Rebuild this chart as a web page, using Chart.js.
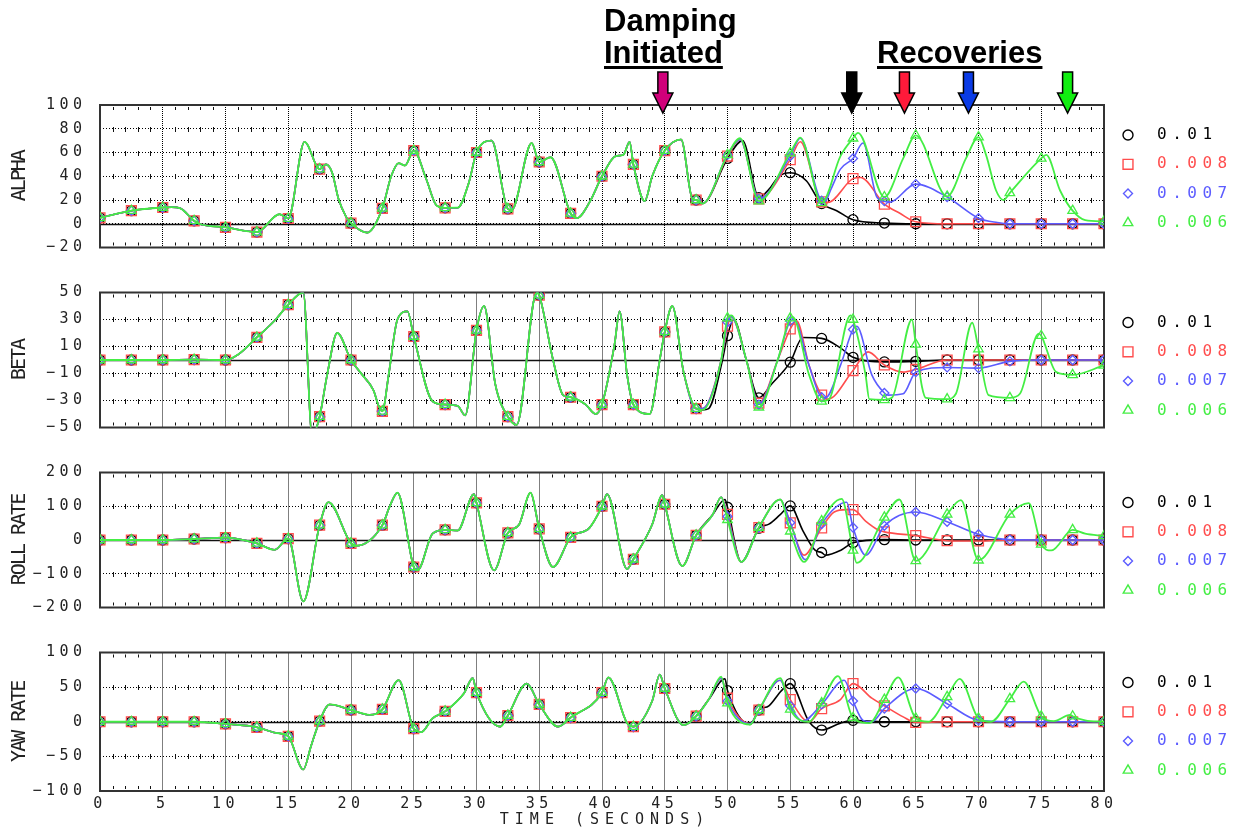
<!DOCTYPE html>
<html>
<head>
<meta charset="utf-8">
<script src="https://cdn.jsdelivr.net/npm/chart.js@4.4.1/dist/chart.umd.min.js"></script>
<style>
  body { margin: 0; background: #fff; }
  #page { position: relative; width: 1241px; height: 829px; overflow: hidden; }
  #page canvas { position: absolute; left: 0; }
</style>
</head>
<body>
<div id="page">
  <canvas id="p0" width="1241" height="270" style="top:0px"></canvas>
  <canvas id="p1" width="1241" height="180" style="top:270px"></canvas>
  <canvas id="p2" width="1241" height="180" style="top:450px"></canvas>
  <canvas id="p3" width="1241" height="199" style="top:630px"></canvas>
</div>
<script>
// series (damping gains)
const seriesNames = ["0.01", "0.008", "0.007", "0.006"];

// tick labels
const timeTicks = [0, 5, 10, 15, 20, 25, 30, 35, 40, 45, 50, 55, 60, 65, 70, 75, 80];
const alphaTicks = [-20, 0, 20, 40, 60, 80, 100];
const betaTicks = [-50, -30, -10, 10, 30, 50];
const rollTicks = [-200, -100, 0, 100, 200];
const yawTicks = [-100, -50, 0, 50, 100];

// arrows above the top panel (time of each arrow)
const arrowTimes = [44.85, 59.9, 64.1, 69.2, 77.1];

// [time, value] before damping - all runs identical
const alphaShared = [[0,5],[2.5,11],[5,13.7],[5.7,14],[6.4,13],[7.5,2.5],[7.9,0],[10,-3],[12.5,-7],[14.3,8],[15,4.4],[16.3,69],[17.5,46],[18,50],[18.5,43],[19,21],[19.6,6],[20,0.5],[21.3,-7.5],[22.5,13],[23.2,40],[23.8,51],[24.3,49],[25,61.6],[26,37.5],[26.8,15.6],[27.5,13.4],[28.5,13.5],[29.4,35],[30,60],[31.2,70],[32.5,12.5],[32.8,11.5],[34.4,68],[35,52],[35.9,56],[37.5,8.8],[38,4.7],[39,18],[40,40],[41.1,57],[41.7,58],[42.2,69],[42.5,50],[43.4,19],[44,40],[45,61.6],[46.3,71],[47.2,21],[47.5,20]];
const alphaBlack = [[48,17],[50,55],[51.2,70],[52.5,22],[53.3,29],[54.1,40],[55,43],[56.3,36],[57.1,22.5],[57.5,17],[58.7,11],[60,3.4],[62.5,0.6],[65,0],[67.5,0],[70,0],[72.5,0],[75,0],[77.5,0],[80,0]];
const alphaRed = [[48,17],[50,57],[51,71],[52.5,21],[55,54],[55.8,69],[57.5,18.5],[58,18],[60,38],[60.6,39],[62.5,16.5],[63.7,9],[65,1.7],[67.5,0],[70,0],[72.5,0],[75,0],[77.5,0],[80,0]];
const alphaBlue = [[48,17],[50,58],[51,71],[52.5,21],[55,57],[55.8,72],[57.5,19.5],[57.8,19],[58.2,28],[59,46],[60,55],[60.8,68],[61.9,22.5],[62.5,19],[62.9,18],[65,33.4],[67.5,22.5],[70,4.7],[71.5,1],[72.5,0],[75,0],[77.5,0],[80,0]];
const alphaGreen = [[48,17],[50,58],[51,72],[52.5,19],[55,59.5],[55.8,72.6],[57.5,17.5],[59,57],[60,72],[60.4,76.5],[62.5,22.5],[64,55],[65,74.5],[67.5,23],[69,55],[70,73],[70.6,58],[71.4,28],[72,20],[72.5,26],[75,55],[75.4,58],[76.5,28],[77.5,11],[78.5,3],[80,2]];

const betaShared = [[0,0],[2.5,0],[5,0],[7.5,0.3],[10,0],[11,4],[12.5,16.7],[14,30],[15,41],[16.2,50],[16.9,-56],[17.5,-42],[18.1,-11],[18.9,20],[20,0],[20.9,-11],[21.8,-22.6],[22.2,-34],[22.5,-38],[23,-11],[23.7,30],[24.5,36],[25,17.4],[26.5,-30.6],[27.5,-33],[28.5,-34],[29.1,-41],[30,22],[30.6,40],[31.5,-18],[32.5,-42],[33.2,-48],[34.8,50],[35,48],[36.1,0],[36.9,-26],[37.5,-27.6],[38.7,-33],[39.5,-40],[40,-33],[41,11.6],[41.4,36],[42,-11],[42.5,-33],[43.8,-40],[44.6,0],[45,20.8],[45.6,40],[46.5,-9],[47.5,-36]];
const betaBlack = [[48,-37],[48.5,-36],[49.6,0],[50,18],[50.5,30],[51.5,0],[52.5,-28],[53.5,-18],[55,-1.6],[56,16.7],[57.5,16],[59,9],[60,2],[62.5,-1.4],[65,-1],[67.5,0],[70,0],[72.5,0],[75,0],[77.5,0],[80,0]];
const betaRed = [[48,-36],[49.5,0],[50,25],[50.3,32],[51.5,0],[52.5,-32],[54,0],[55,23],[55.5,29],[56.5,-4],[57.5,-26],[58,-29],[60,-7.8],[61.2,6],[62.5,-3.7],[64,-9],[65,-7],[67.5,0],[70,0],[72.5,0],[75,0],[77.5,0],[80,0]];
const betaBlue = [[48,-36],[49.5,0],[50,28],[50.3,32],[51.5,0],[52.5,-33],[54,0],[55,28.8],[55.3,30],[56.5,-4],[57.5,-27.6],[57.8,-28],[59,-4],[60,22.6],[60.3,25],[61.5,-11],[62.5,-24.4],[62.8,-26],[64,-25],[65,-9],[67.5,-5.5],[70,-6],[72.5,-1],[75,0],[77.5,0],[80,0]];
const betaGreen = [[48,-37],[49.5,0],[50,31],[50.3,33],[51.5,0],[52.5,-35],[54,0],[55,31],[55.2,32],[56.5,-11],[57.5,-30.6],[58.1,-29],[59.8,33],[60,30],[61,-11],[61.3,-29],[62.5,-29.5],[63.1,-28],[64.7,30],[65,11.6],[65.5,-20],[65.8,-28],[67.5,-29],[68.2,-25],[69.5,27.6],[70,8],[70.8,-26],[72.5,-28],[73.3,-25],[74.8,19.6],[75,18],[76.2,-9],[77.5,-11],[80,-4]];

const rollShared = [[0,0],[2.5,0],[5,0],[7.5,3],[10,7],[12.5,-10],[13.9,-29],[15,4],[16.2,-182],[17.5,44],[18.2,112],[20,-10],[20.4,-17],[22.5,44],[23.1,101],[23.7,140],[25,-80],[25.3,-90],[26.5,19],[27.5,30],[28.5,28],[29.8,136],[30,110],[31.4,-90],[32.5,21],[33.4,46],[34.3,140],[35,33],[36.1,-80],[37.5,8],[39,36],[40,100],[40.4,136],[42,-86],[42.5,-57],[44,46],[44.8,133],[45,106],[46.4,-77],[47.5,14]];
const rollBlack = [[48.8,74],[49.8,120],[50,97],[51.1,-65],[52.5,35],[53.3,47],[54.2,75],[55,101],[56,28],[57,-31],[57.5,-37],[57.8,-45],[59,-31],[60,-8],[62.5,1],[65,0],[67.5,0],[70,0],[72.5,0],[75,0],[77.5,0],[80,0]];
const rollRed = [[48.8,74],[49.5,127],[50,76],[51.1,-65],[52.5,37],[54.2,120],[55,51],[56.1,-45],[57.5,36],[58.5,83],[59.5,90],[60,90],[61,56],[62,30],[62.5,24],[65,13],[67.5,-2],[70,-3],[72.5,0],[75,0],[77.5,0],[80,0]];
const rollBlue = [[48.8,74],[49.5,127],[50,70],[51.1,-65],[52.5,37],[54.2,120],[55,51],[56.2,-58],[57.5,47],[59.5,112],[60,37],[61,-45],[62.5,42],[65,83],[67.5,54],[70,17],[72.5,1],[75,0],[77.5,0],[80,0]];
const rollGreen = [[48.8,74],[49.5,127],[50,60],[51.1,-65],[52.5,37],[54.2,120],[55,26],[56.1,-65],[57.5,56],[59.1,122],[60,-31],[60.3,-68],[62.5,67],[63.7,120],[65,-62],[67.5,76],[68.6,118],[70,-60],[72.5,76],[74,109],[75,-13],[75.8,-31],[77.5,30],[78.5,19],[80,12]];

const yawShared = [[0,0],[2.5,0],[5,0],[7.5,0],[10,-3],[12.5,-8],[14,-16],[15,-21],[16.2,-69],[16.8,-36],[17.5,1],[18.3,25],[20,17],[21.5,10],[22.5,18],[23.8,60],[25,-10],[25.6,-15],[26.5,5],[27.5,15],[29,41],[29.7,63],[30,42],[31.9,-7],[32.5,9],[34,55],[35,25],[36.5,-7],[37.5,6],[40,42],[40.5,64],[42,-2],[42.5,-7],[44,30],[44.6,68],[45,48],[46.5,-5],[47.5,8]];
const yawBlack = [[48.5,32],[49.8,62],[50,45],[51.8,-4],[52.5,17],[53.3,23],[54.3,45],[55,55],[56.5,0],[57.5,-12],[59,-2],[60,2],[62.5,0],[65,0],[67.5,0],[70,0],[72.5,0],[75,0],[77.5,0],[80,0]];
const yawRed = [[48.5,32],[49.5,63],[50,34],[51.8,-3],[52.5,17],[54.2,60],[55,32],[56.5,0],[57.5,19],[59,32],[60,55],[61.5,34],[62.5,23],[64,7],[65,-1],[67.5,0],[70,0],[72.5,0],[75,0],[77.5,0],[80,0]];
const yawBlue = [[48.5,32],[49.5,63],[50,30],[51.8,-3],[52.5,17],[54.2,60],[55,23],[56,1],[57.5,25],[59.3,60],[60,30],[60.8,2],[61.5,0],[62.5,19],[65,48],[67.5,26],[70,2],[72.5,0],[75,0],[77.5,0],[80,0]];
const yawGreen = [[48.5,32],[49.5,65],[50,27],[51.8,-4],[52.5,17],[54.2,63],[55,18],[56.5,0],[57.5,27],[58.8,66],[60,5.5],[61.3,-2],[62.5,32],[63.6,64],[65,5],[66,0],[67.5,36],[68.5,62],[70,5],[71,0],[72.5,33],[73.6,58],[75,8],[76,1],[77.3,10],[77.5,8],[78.5,2],[80,0]];

// styles
const seriesColors = ["#000000", "#ff4d4d", "#5c5cff", "#44ee44"];
const seriesPoints = ["circle", "rect", "rectRot", "triangle"];
const seriesRadius = [5, 7, 4.5, 5.5];
const arrowColors = ["#d0007a", "#000000", "#ff1a3a", "#0a3be6", "#11ee11"];
const monoFont = '"DejaVu Sans Mono", monospace';

const panels = [
  { id: "p0", title: "ALPHA", shared: alphaShared, runs: [alphaBlack, alphaRed, alphaBlue, alphaGreen], ticks: alphaTicks, padTop: 105, padBottom: 19, xHeight: 0, notes: true },
  { id: "p1", title: "BETA", shared: betaShared, runs: [betaBlack, betaRed, betaBlue, betaGreen], ticks: betaTicks, padTop: 15, padBottom: 19, xHeight: 0 },
  { id: "p2", title: "ROLL RATE", shared: rollShared, runs: [rollBlack, rollRed, rollBlue, rollGreen], ticks: rollTicks, padTop: 15, padBottom: 19, xHeight: 0 },
  { id: "p3", title: "YAW RATE", shared: yawShared, runs: [yawBlack, yawRed, yawBlue, yawGreen], ticks: yawTicks, padTop: 15, padBottom: 0, xHeight: 38, xAxis: true }
];

function isMarker(t) {
  return Math.abs(t / 2.5 - Math.round(t / 2.5)) < 1e-6;
}

function drawMark(ctx, style, x, y, r) {
  ctx.beginPath();
  if (style === "circle") {
    ctx.arc(x, y, r, 0, Math.PI * 2);
  } else if (style === "rect") {
    const s = r * Math.SQRT1_2;
    ctx.rect(x - s, y - s, 2 * s, 2 * s);
  } else if (style === "rectRot") {
    ctx.moveTo(x, y - r); ctx.lineTo(x + r, y); ctx.lineTo(x, y + r); ctx.lineTo(x - r, y); ctx.closePath();
  } else {
    for (let k = 0; k < 3; k++) {
      const ang = k * 2 * Math.PI / 3;
      const px = x + Math.sin(ang) * r, py = y - Math.cos(ang) * r;
      if (k === 0) ctx.moveTo(px, py); else ctx.lineTo(px, py);
    }
    ctx.closePath();
  }
  ctx.stroke();
}

function drawArrow(ctx, cx, color) {
  const top = 72, headY = 93, tip = 113;
  ctx.beginPath();
  ctx.moveTo(cx - 5, top); ctx.lineTo(cx + 5, top); ctx.lineTo(cx + 5, headY);
  ctx.lineTo(cx + 10, headY); ctx.lineTo(cx, tip); ctx.lineTo(cx - 10, headY);
  ctx.lineTo(cx - 5, headY); ctx.closePath();
  ctx.fillStyle = color; ctx.fill();
  ctx.strokeStyle = "#000"; ctx.lineWidth = 1.5; ctx.stroke();
}

const panelDecor = {
  id: "panelDecor",
  beforeDraw(chart) {
    chart.ctx.letterSpacing = "4.5px";
  },
  beforeDatasetsDraw(chart) {
    const { ctx, chartArea: a, scales: { x, y } } = chart;
    ctx.save();
    ctx.fillStyle = "#111";
    // one-second marks on borders and grid lines
    for (let t = 1; t < 80; t++) {
      if (t % 5 === 0) continue;
      const px = Math.round(x.getPixelForValue(t));
      ctx.fillRect(px, a.top + 2, 1, 3);
      ctx.fillRect(px, a.bottom - 5, 1, 3);
      y.ticks.forEach(tk => {
        if (tk.value <= y.min || tk.value >= y.max || tk.value === 0) return;
        const py = Math.round(y.getPixelForValue(tk.value));
        ctx.fillRect(px, py - 2, 1, 5);
      });
    }
    // zero line
    const zy = Math.round(y.getPixelForValue(0)) + 0.5;
    ctx.strokeStyle = "#111";
    ctx.lineWidth = 1.5;
    ctx.beginPath(); ctx.moveTo(a.left, zy); ctx.lineTo(a.right, zy); ctx.stroke();
    // frame
    ctx.strokeStyle = "#333";
    ctx.lineWidth = 2;
    ctx.strokeRect(a.left, a.top, a.right - a.left, a.bottom - a.top);
    ctx.restore();
  },
  afterDraw(chart, args, opts) {
    const { ctx, chartArea: a } = chart;
    ctx.save();

    // legend
    ctx.font = "16px " + monoFont;
    ctx.letterSpacing = "5.5px";
    ctx.textAlign = "left";
    ctx.textBaseline = "middle";
    seriesNames.forEach((name, i) => {
      const ly = a.top + 30 + i * 29.3;
      ctx.strokeStyle = seriesColors[i];
      ctx.lineWidth = 1.4;
      drawMark(ctx, seriesPoints[i], 1128, ly, seriesRadius[i]);
      ctx.fillStyle = seriesColors[i];
      ctx.fillText(name, 1157, ly);
    });

    // y title
    ctx.save();
    ctx.translate(20, (a.top + a.bottom) / 2);
    ctx.rotate(-Math.PI / 2);
    ctx.font = "20px " + monoFont;
    ctx.letterSpacing = "-2px";
    ctx.textAlign = "center";
    ctx.fillStyle = "#222";
    ctx.fillText(opts.title, 0, 0);
    ctx.restore();

    // x title
    if (opts.xAxis) {
      ctx.font = "15px " + monoFont;
      ctx.letterSpacing = "6px";
      ctx.textAlign = "center";
      ctx.fillStyle = "#222";
      ctx.fillText("TIME (SECONDS)", (a.left + a.right) / 2 + 3, 820 - 630);
    }

    // annotations
    if (opts.notes) {
      ctx.letterSpacing = "0px";
      ctx.font = 'bold 31px "Liberation Sans", Arial, sans-serif';
      ctx.fillStyle = "#000";
      ctx.textAlign = "left";
      ctx.textBaseline = "alphabetic";
      ctx.fillText("Damping", 604, 31);
      ctx.fillText("Initiated", 604, 63);
      ctx.fillText("Recoveries", 877, 63);
      ctx.fillRect(604, 66, ctx.measureText("Initiated").width, 3);
      ctx.fillRect(877, 66, ctx.measureText("Recoveries").width, 3);
      arrowTimes.forEach((t, i) => {
        drawArrow(ctx, chart.scales.x.getPixelForValue(t), arrowColors[i]);
      });
    }
    ctx.restore();
  }
};

panels.forEach(p => {
  // dataset 0 is drawn on top, so green first, black last
  const datasets = [3, 2, 1, 0].map(i => ({
    label: seriesNames[i],
    data: p.shared.concat(p.runs[i]).map(([x, y]) => ({ x, y })),
    borderColor: seriesColors[i],
    borderWidth: i === 3 ? 1.8 : 1.6,
    cubicInterpolationMode: "monotone",
    pointStyle: seriesPoints[i],
    pointRadius: c => (c.raw && isMarker(c.raw.x) ? seriesRadius[i] : 0),
    pointBorderColor: seriesColors[i],
    pointBackgroundColor: "rgba(0,0,0,0)",
    pointBorderWidth: 1.3
  }));

  new Chart(document.getElementById(p.id), {
    type: "line",
    data: { datasets },
    plugins: [panelDecor],
    options: {
      responsive: false,
      animation: false,
      events: [],
      layout: { padding: { top: p.padTop, bottom: p.padBottom, left: 0, right: 137 } },
      plugins: {
        legend: { display: false },
        tooltip: { enabled: false },
        panelDecor: { title: p.title, notes: !!p.notes, xAxis: !!p.xAxis }
      },
      scales: {
        x: {
          type: "linear",
          min: 0,
          max: 80,
          afterBuildTicks: s => { s.ticks = timeTicks.map(v => ({ value: v })); },
          afterFit: s => { s.height = p.xHeight; },
          grid: { color: "#000", lineWidth: 1, drawTicks: false },
          border: { display: false, dash: [1, 1] },
          ticks: {
            display: !!p.xAxis,
            autoSkip: false,
            maxRotation: 0,
            padding: 4,
            color: "#222",
            font: { family: monoFont, size: 15 }
          }
        },
        y: {
          min: p.ticks[0],
          max: p.ticks[p.ticks.length - 1],
          afterBuildTicks: s => { s.ticks = p.ticks.map(v => ({ value: v })); },
          afterFit: s => { s.width = 100; },
          grid: { color: "#000", lineWidth: 1, drawTicks: false },
          border: { display: false, dash: [1, 2] },
          ticks: {
            padding: 13.5,
            color: "#222",
            font: { family: monoFont, size: 15 },
            callback: v => (v < 0 ? "\u2212" + Math.abs(v) : String(v))
          }
        }
      }
    }
  });
});
</script>
</body>
</html>
